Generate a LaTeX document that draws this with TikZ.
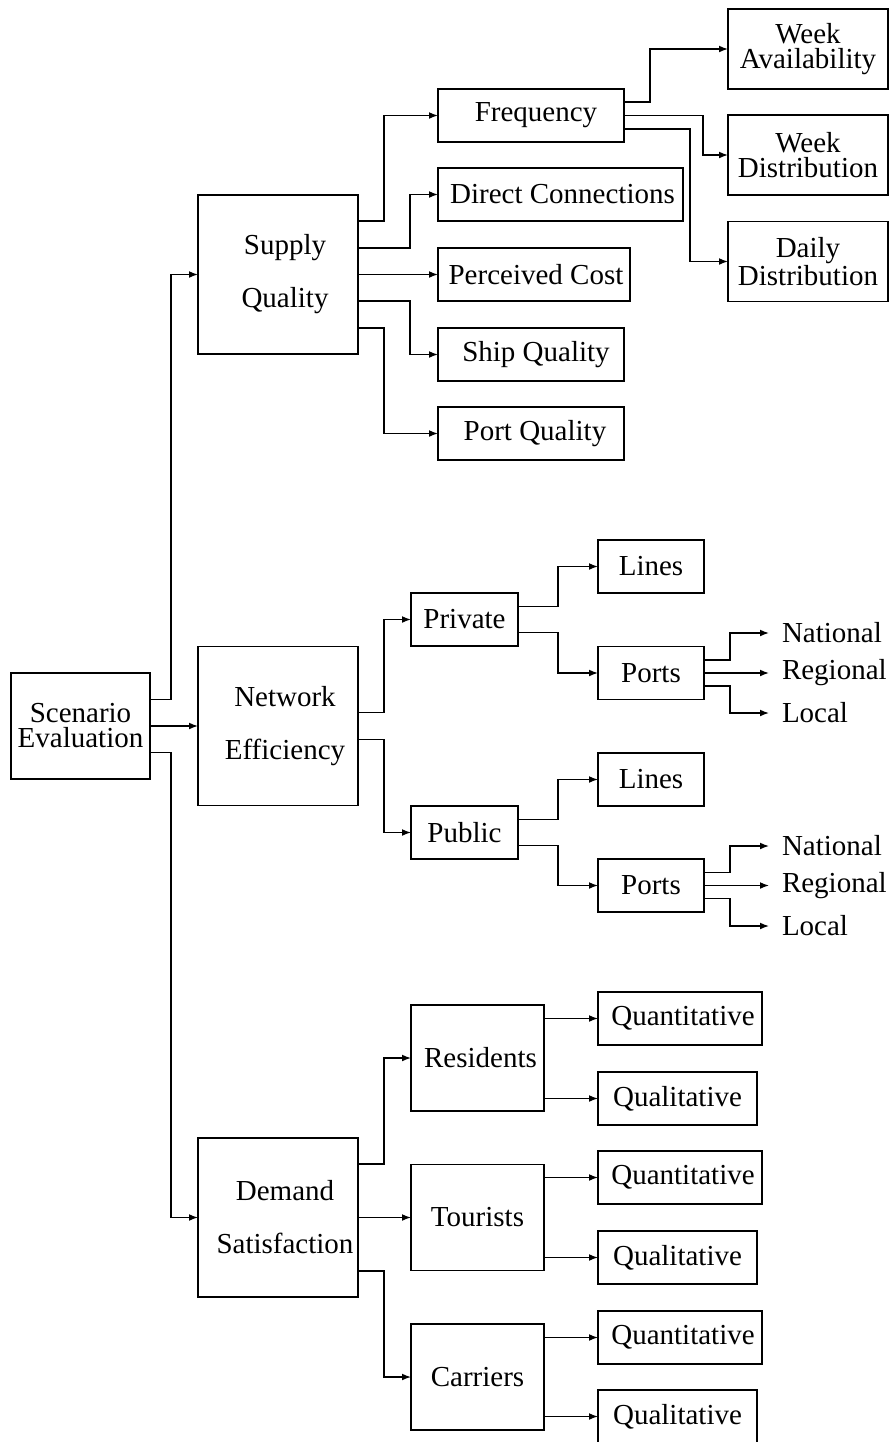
\documentclass[tikz,border=0pt]{standalone}
\usepackage{fontspec}
\setmainfont{Liberation Serif}
\usetikzlibrary{arrows.meta,calc}
\newcommand\tsh[1]{\hspace*{#1pt}}
\begin{document}
\begin{tikzpicture}[x=0.5pt,y=-0.5pt,
  bx/.style={draw, line width=0.65pt, inner sep=0pt, outer sep=0pt, align=center,
    font=\fontsize{14.5}{12.5}\selectfont},
  big/.style={bx, minimum width=80pt, minimum height=79.5pt,
    font=\fontsize{14.5}{26.5}\selectfont},
  one/.style={bx, minimum height=26.5pt},
  two/.style={bx, minimum width=80pt, minimum height=40pt},
  mid/.style={bx, minimum width=66.5pt, minimum height=53pt},
  conn/.style={line width=0.6pt, -{Latex[length=4.5pt,width=3.4pt]}},
  lbl/.style={anchor=west, inner ysep=0pt, inner xsep=6.5pt, outer sep=0pt,
    font=\fontsize{14.5}{12.5}\selectfont}
]
\useasboundingbox (0,0) rectangle (893,1442);

% root
\node[bx, minimum width=69.5pt, minimum height=53pt] (se) at (80.5,726) {Scenario\\Evaluation};

% level 1
\node[big] (sq) at (278,274.5) {\tsh{7}Supply\\\tsh{7}Quality};
\node[big] (ne) at (278,726) {\tsh{7}Network\\\tsh{7}Efficiency};
\node[big] (ds) at (278,1217.5) {\tsh{7}Demand\\\tsh{7}Satisfaction};

% supply quality children
\node[one, minimum width=93pt] (freq) at (531,115.5) {\tsh{5}Frequency};
\node[one, minimum width=122.5pt] (dc) at (560.5,194.5) {\tsh{2}Direct Connections};
\node[one, minimum width=96pt] (pc) at (534,274.5) {\tsh{2}Perceived Cost};
\node[one, minimum width=93pt] (shq) at (531,354.5) {\tsh{5}Ship Quality};
\node[one, minimum width=93pt] (ptq) at (531,433.5) {\tsh{4}Port Quality};

\node[two] (wa) at (808,49) {Week\\Availability};
\node[two] (wd) at (808,155) {Week\\Distribution};
\node[two] (dd) at (808,261.5) {Daily\\Distribution};

% network efficiency children
\node[one, minimum width=53.5pt] (priv) at (464.5,619.5) {Private};
\node[one, minimum width=53.5pt] (pub) at (464.5,832.5) {Public};
\node[one, minimum width=53pt] (lines1) at (651,566.5) {Lines};
\node[one, minimum width=53pt] (ports1) at (651,673) {Ports};
\node[one, minimum width=53pt] (lines2) at (651,779.5) {Lines};
\node[one, minimum width=53pt] (ports2) at (651,885.5) {Ports};

\node[lbl] (nat1) at (769,633) {National};
\node[lbl] (reg1) at (769,673) {Regional};
\node[lbl] (loc1) at (769,713) {Local};
\node[lbl] (nat2) at (769,846) {National};
\node[lbl] (reg2) at (769,885.5) {Regional};
\node[lbl] (loc2) at (769,926) {Local};

% demand satisfaction children
\node[mid] (res) at (477.5,1058) {\tsh{3}Residents};
\node[mid] (tour) at (477.5,1217.5) {Tourists};
\node[mid] (car) at (477.5,1377) {Carriers};

\node[one, minimum width=82pt] (qn1) at (680,1018.5) {\tsh{3}Quantitative};
\node[one, minimum width=79.5pt] (ql1) at (677.5,1098.5) {Qualitative};
\node[one, minimum width=82pt] (qn2) at (680,1177.5) {\tsh{3}Quantitative};
\node[one, minimum width=79.5pt] (ql2) at (677.5,1257.5) {Qualitative};
\node[one, minimum width=82pt] (qn3) at (680,1337.5) {\tsh{3}Quantitative};
\node[one, minimum width=79.5pt] (ql3) at (677.5,1416.5) {Qualitative};

% connectors from root
\draw[conn] ($(se.east)+(0,-26.5)$) -- ++(21,0) |- (sq.west);
\draw[conn] (se.east) -- (ne.west);
\draw[conn] ($(se.east)+(0,26.5)$) -- ++(21,0) |- (ds.west);

% supply quality
\draw[conn] ($(sq.east)+(0,-53.5)$) -- ++(26,0) |- (freq.west);
\draw[conn] ($(sq.east)+(0,-26.5)$) -- ++(52,0) |- (dc.west);
\draw[conn] (sq.east) -- (pc.west);
\draw[conn] ($(sq.east)+(0,26.5)$) -- ++(52,0) |- (shq.west);
\draw[conn] ($(sq.east)+(0,53.5)$) -- ++(26,0) |- (ptq.west);

\draw[conn] ($(freq.east)+(0,-13.5)$) -- ++(26,0) |- (wa.west);
\draw[conn] (freq.east) -- ++(79,0) |- (wd.west);
\draw[conn] ($(freq.east)+(0,13.5)$) -- ++(66,0) |- (dd.west);

% network efficiency
\draw[conn] ($(ne.east)+(0,-13.5)$) -- ++(26,0) |- (priv.west);
\draw[conn] ($(ne.east)+(0,13.5)$) -- ++(26,0) |- (pub.west);

\draw[conn] ($(priv.east)+(0,-13)$) -- ++(40,0) |- (lines1.west);
\draw[conn] ($(priv.east)+(0,13)$) -- ++(40,0) |- (ports1.west);
\draw[conn] ($(pub.east)+(0,-13)$) -- ++(40,0) |- (lines2.west);
\draw[conn] ($(pub.east)+(0,13)$) -- ++(40,0) |- (ports2.west);

\draw[conn] ($(ports1.east)+(0,-13)$) -- ++(26,0) |- (nat1.west);
\draw[conn] (ports1.east) -- (reg1.west);
\draw[conn] ($(ports1.east)+(0,13)$) -- ++(26,0) |- (loc1.west);
\draw[conn] ($(ports2.east)+(0,-13)$) -- ++(26,0) |- (nat2.west);
\draw[conn] (ports2.east) -- (reg2.west);
\draw[conn] ($(ports2.east)+(0,13)$) -- ++(26,0) |- (loc2.west);

% demand satisfaction
\draw[conn] ($(ds.east)+(0,-53.5)$) -- ++(26,0) |- (res.west);
\draw[conn] (ds.east) -- (tour.west);
\draw[conn] ($(ds.east)+(0,53.5)$) -- ++(26,0) |- (car.west);

\draw[conn] (res.east |- qn1.west) -- (qn1.west);
\draw[conn] (res.east |- ql1.west) -- (ql1.west);
\draw[conn] (tour.east |- qn2.west) -- (qn2.west);
\draw[conn] (tour.east |- ql2.west) -- (ql2.west);
\draw[conn] (car.east |- qn3.west) -- (qn3.west);
\draw[conn] (car.east |- ql3.west) -- (ql3.west);
\end{tikzpicture}
\end{document}
